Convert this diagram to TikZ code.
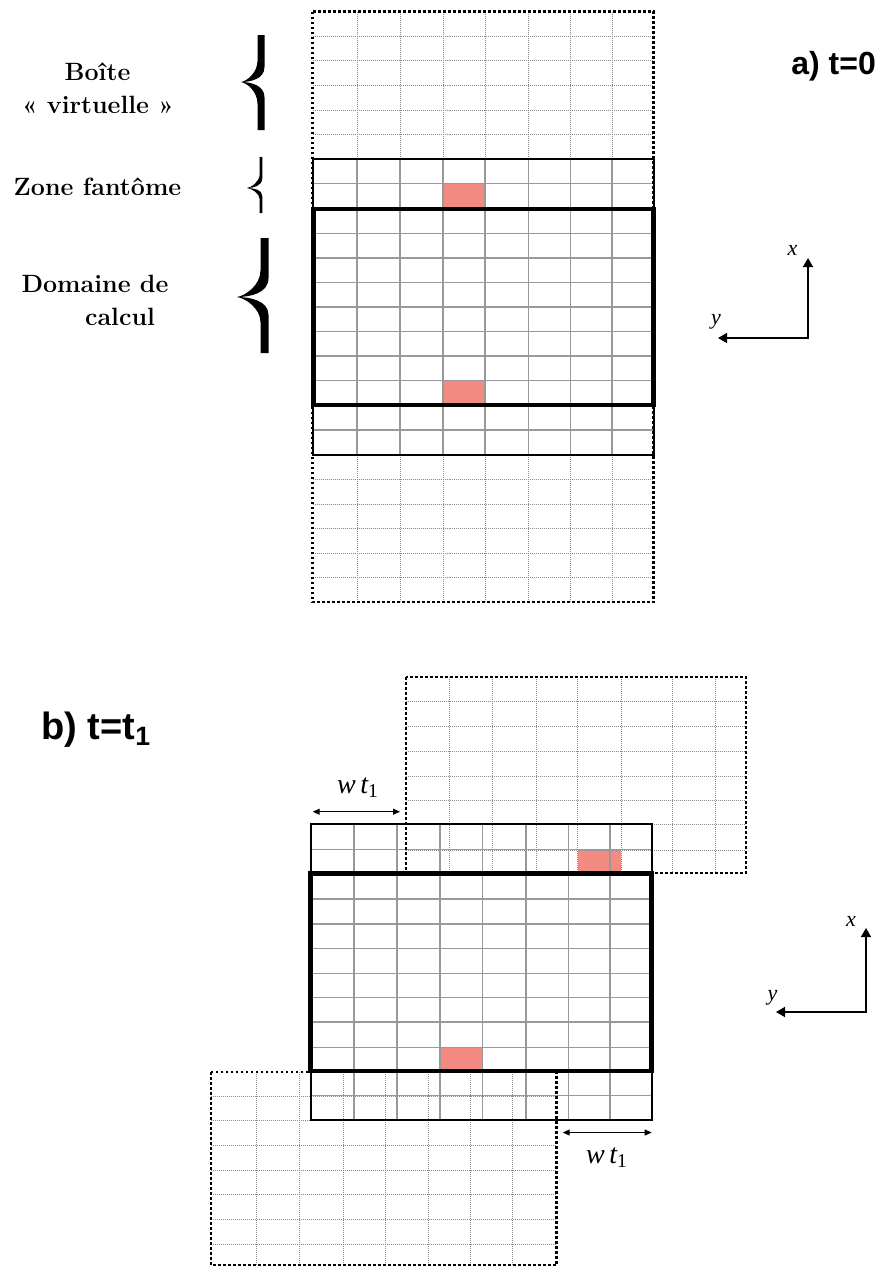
\documentclass[tikz,border=0pt]{standalone}
\usepackage{fontspec}
\newfontfamily\sansbold{Liberation Sans}
\newfontfamily\timesf{Liberation Serif}
\usetikzlibrary{arrows.meta}
\definecolor{cellpink}{RGB}{243,139,130}
\newcommand\mhalfbrace[5]{%
  \fill (#3-#5,#4) -- (#3-#5,{#2-0.45*(#2-#4)})
   .. controls (#3-#5,{#2-0.2*(#2-#4)}) and ({#1+0.3*(#3-#1)},{#2-0.02*(#2-#4)}) .. (#1,#2)
   .. controls ({#1+0.45*(#3-#1)},#2) and (#3+#5,{#2-0.06*(#2-#4)}) .. (#3+#5,{#2-0.32*(#2-#4)})
   -- (#3+#5,#4) -- cycle;}
\begin{document}
\begin{tikzpicture}[x=0.5pt,y=-0.5pt,
  vgrid/.style={draw=black!45, line width=0.45pt, dash pattern=on 0.45pt off 0.55pt},
  sgrid/.style={draw=black!40, line width=0.55pt},
  vborder/.style={draw=black, line width=1.3pt, dash pattern=on 1.3pt off 1.2pt},
  ghostbox/.style={draw=black, line width=1pt},
  domainbox/.style={draw=black, line width=2.3pt},
  hotcell/.style={fill=cellpink},
  lbl/.style={font=\fontsize{12.5}{15}\selectfont\bfseries, inner sep=0pt, anchor=base},
  ital/.style={font=\timesf\itshape\fontsize{14}{16}\selectfont, inner sep=0pt, anchor=base},
  axlbl/.style={font=\timesf\itshape\fontsize{11}{13}\selectfont, inner sep=0pt},
  axisarr/.style={line width=0.75pt, line join=miter, {Triangle[length=4.5pt,width=5pt]}-{Triangle[length=4.5pt,width=5pt]}},
  dimarr/.style={line width=0.5pt, {Triangle[length=3.5pt,width=3pt]}-{Triangle[length=3.5pt,width=3pt]}}
]
\useasboundingbox (0,0) rectangle (878,1266);

% ================= a) =================
\fill[hotcell] (443,183.7) rectangle (485,209);
\fill[hotcell] (443,380.5) rectangle (485,405);
% virtual (dotted) grid
\foreach \x in {357,400,443,485,528.5,570.5,612} {
  \draw[vgrid] (\x,11.5) -- (\x,159);
  \draw[vgrid] (\x,455) -- (\x,602);
}
\foreach \y in {36,60.7,85.5,110,134.5,479.5,504,528.5,553,577.5}
  \draw[vgrid] (312.5,\y) -- (653.5,\y);
% solid grid
\foreach \x in {357,400,443,485,528.5,570.5,612}
  \draw[sgrid] (\x,159) -- (\x,455);
\foreach \y in {183.7,233.5,258,282.5,307,331.5,356,380.5,430}
  \draw[sgrid] (312.5,\y) -- (653.5,\y);
\draw[vborder] (312.5,11.5) rectangle (653.5,602);
\draw[ghostbox] (312.5,159) rectangle (653.5,209);
\draw[ghostbox] (312.5,405) rectangle (653.5,455);
\draw[domainbox] (313.5,209) rectangle (653.5,405);

% braces
\mhalfbrace{241}{82}{261}{35}{3.5}
\mhalfbrace{241}{82}{261}{130}{3.5}
\mhalfbrace{247}{188}{261}{157}{1.3}
\mhalfbrace{247}{188}{261}{213}{1.3}
\mhalfbrace{237}{297}{264.5}{238}{4}
\mhalfbrace{237}{297}{264.5}{353}{4}

\node[lbl] (boite1) at (97.5,80) {Boîte};
\node[lbl] (boite2) at (98,113) {« virtuelle »};
\node[lbl] (fant) at (97.5,195) {Zone fantôme};
\node[lbl] (dom1) at (95,292) {Domaine de};
\node[lbl] (dom2) at (120,325) {calcul};

\node[font=\sansbold\bfseries\fontsize{16}{19}\selectfont, inner sep=0pt, anchor=base west] (ta) at (791,74) {a) t=0};

\coordinate (oa) at (808,338);
\coordinate (xa) at (808,258);
\coordinate (ya) at (718,338);
\draw[axisarr] (xa) -- (oa) -- (ya);
\node[axlbl] (xla) at (792.5,250) {x};
\node[axlbl] (yla) at (716,322) {y};

% ================= b) =================
\node[font=\sansbold\bfseries\fontsize{19}{22}\selectfont, inner sep=0pt, anchor=base west] (tb) at (41,739) {b) t=t\textsubscript{1}};

\fill[hotcell] (577.7,850) rectangle (621,873.5);
\fill[hotcell] (440,1047.7) rectangle (482.5,1071);
% shifted upper virtual box
\foreach \x in {449,492,536,577.3,621,672.7,715}
  \draw[vgrid] (\x,677) -- (\x,873);
\foreach \y in {701.7,726.7,751,776.7,800.7,824.3,850}
  \draw[vgrid] (406,\y) -- (746,\y);
% shifted lower virtual box
\foreach \x in {256.7,299.3,343.3,385,428.7,470.7,512.7}
  \draw[vgrid] (\x,1072) -- (\x,1265);
\foreach \y in {1096,1120,1145.7,1170.7,1194,1219.3,1244.3}
  \draw[vgrid] (211,\y) -- (556.7,\y);
% main solid grid
\foreach \x in {354,397,440,482.5,526,568.5,610}
  \draw[sgrid] (\x,824.3) -- (\x,1120);
\foreach \y in {849.5,899,924,948.7,973.5,997.5,1022,1047.7,1095.5}
  \draw[sgrid] (310.7,\y) -- (652.3,\y);
\draw[vborder] (406,677) rectangle (746,873);
\draw[vborder] (211,1072) rectangle (556.7,1265);
\draw[ghostbox] (310.7,824.3) rectangle (652.3,873.5);
\draw[ghostbox] (310.7,1071) rectangle (652.3,1120);
\draw[domainbox] (310.5,873.5) rectangle (651.5,1071);

\coordinate (d1a) at (312.7,811.7);
\coordinate (d1b) at (400,811.7);
\draw[dimarr] (d1a) -- (d1b);
\node[ital] (wt1) at (358,793) {w\,t\textsubscript{\upshape 1}};
\coordinate (d2a) at (562.7,1132.5);
\coordinate (d2b) at (651.7,1132.5);
\draw[dimarr] (d2a) -- (d2b);
\node[ital] (wt2) at (607,1163) {w\,t\textsubscript{\upshape 1}};

\coordinate (ob) at (866,1012);
\coordinate (xb) at (866,928);
\coordinate (yb) at (776,1012);
\draw[axisarr] (xb) -- (ob) -- (yb);
\node[axlbl] (xlb) at (851,921.7) {x};
\node[axlbl] (ylb) at (772.5,998) {y};
\end{tikzpicture}
\end{document}
